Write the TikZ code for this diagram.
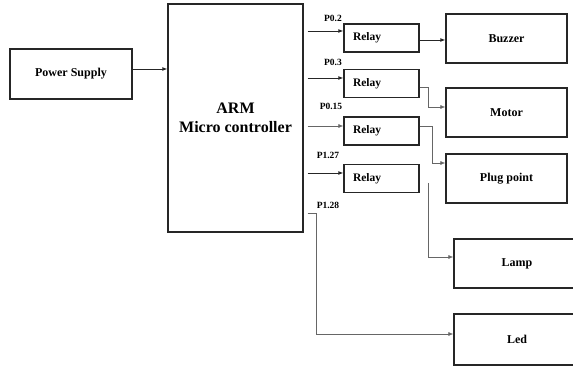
\documentclass[tikz,border=0pt]{standalone}
\usepackage{fontspec}
\setmainfont{Liberation Serif}
\usetikzlibrary{arrows.meta,calc}
\begin{document}
\begin{tikzpicture}[x=1pt,y=-1pt,
 box/.style={draw=black!85,line width=1.3pt,inner sep=0pt,font=\bfseries\fontsize{12}{14}\selectfont},
 relaybox/.style={box,text width=57pt,inner xsep=9pt,inner ysep=0pt,align=left,minimum height=28pt,font=\bfseries\fontsize{11.5}{13}\selectfont},
 arr/.style={-{Latex[length=5pt,width=4pt]},line width=0.9pt,draw=black!85},
 thinarr/.style={-{Latex[length=5pt,width=4pt]},line width=0.6pt,draw=black!60},
 lbl/.style={font=\bfseries\fontsize{9.5}{11}\selectfont,inner sep=0pt}]
\useasboundingbox (0,0) rectangle (573,366);

\node[box,minimum width=122pt,minimum height=50pt] (ps) at (71,74) {Power Supply};
\node[box,minimum width=135pt,minimum height=228pt,align=center,font=\bfseries\fontsize{16}{19}\selectfont] (arm) at (235.5,118) {ARM\\Micro controller};

\node[relaybox] (r1) at (381.5,38) {Relay};
\node[relaybox] (r2) at (381.5,83.5) {Relay};
\node[relaybox] (r3) at (381.5,131) {Relay};
\node[relaybox] (r4) at (381.5,178.5) {Relay};

\node[box,minimum width=121pt,minimum height=49pt] (buz) at (506.5,38.5) {Buzzer};
\node[box,minimum width=121pt,minimum height=49pt] (mot) at (506.5,112.5) {Motor};
\node[box,minimum width=121pt,minimum height=49pt] (plug) at (506.5,178.5) {Plug point};
\node[box,minimum width=126pt,minimum height=49pt] (lamp) at (517,263.5) {Lamp};
\node[box,minimum width=126pt,minimum height=51pt] (led) at (517,339.5) {Led};

\node[lbl] (l1) at (333,18) {P0.2};
\node[lbl] (l2) at (333,62) {P0.3};
\node[lbl] (l3) at (331,106) {P0.15};
\node[lbl] (l4) at (328,155) {P1.27};
\node[lbl] (l5) at (328,205) {P1.28};

% power supply to ARM
\draw[arr] (ps.east |- 0,69) -- (arm.west |- 0,69);

% ARM to relays
\coordinate (i1) at ([yshift=7pt]r1.west);
\coordinate (i2) at ([yshift=5.5pt]r2.west);
\coordinate (i3) at ([yshift=5pt]r3.west);
\coordinate (i4) at ([yshift=5.5pt]r4.west);
\draw[arr] ($(arm.east |- i1)+(4,0)$) -- (i1);
\draw[arr] ($(arm.east |- i2)+(4,0)$) -- (i2);
\draw[thinarr] ($(arm.east |- i3)+(4,0)$) -- (i3);
\draw[arr] ($(arm.east |- i4)+(4,0)$) -- (i4);

% relays to loads
\draw[arr] ([yshift=-2pt]r1.east) -- ([yshift=-2pt]r1.east -| buz.west);
\draw[thinarr] ([yshift=-3.5pt]r2.east) -- ++(9,0) |- ([yshift=5.5pt]mot.west);
\draw[thinarr] ([yshift=5pt]r3.east) -- ++(13,0) |- ([yshift=15.5pt]plug.west);
\coordinate (s4) at ([xshift=9pt,yshift=-4.5pt]r4.east);
\draw[thinarr] (s4) |- ([yshift=6.5pt]lamp.west);

% P1.28 to Led
\coordinate (s5) at ($(arm.east)+(4,95)$);
\draw[thinarr] (s5) -- ++(9,0) |- ([yshift=5.5pt]led.west);
\end{tikzpicture}
\end{document}
